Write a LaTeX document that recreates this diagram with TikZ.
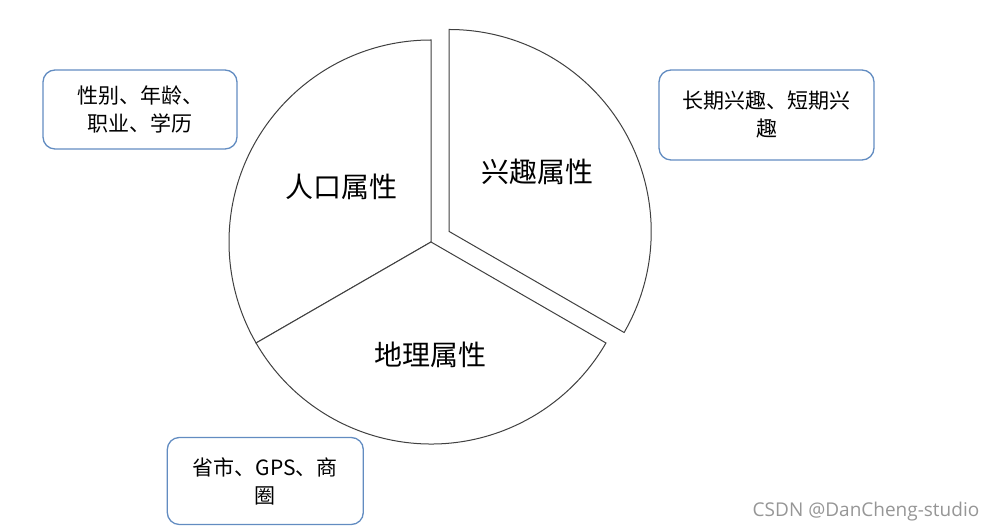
\documentclass[tikz,border=0pt]{standalone}
\usepackage{fontspec}
\setmainfont{Noto Sans CJK SC}
\newfontfamily\wmfont{Open Sans}
\definecolor{boxblue}{RGB}{98,140,193}
\definecolor{pieline}{RGB}{64,64,64}
\definecolor{wmgray}{RGB}{150,150,150}

\begin{document}
\begin{tikzpicture}[x=1pt,y=1pt,
  sector/.style={draw=pieline,line width=1pt,fill=white},
  piece/.style={font=\fontsize{28}{32}\selectfont},
  tagbox/.style={draw=boxblue,line width=1.3pt,rounded corners=12pt,
    align=center,inner sep=0pt,font=\fontsize{21}{28}\selectfont}]
  \useasboundingbox (0,0) rectangle (995,532);
  \coordinate (c) at (431,290);
  \draw[sector] (c) -- ++(90:202) arc (90:210:202) -- cycle;
  \draw[sector] (c) -- ++(210:202) arc (210:330:202) -- cycle;
  \draw[sector] ([shift={(30:21)}]c) -- ++(-30:202) arc (-30:90:202) -- cycle;
  \node[piece] (people) at (341,345) {人口属性};
  \node[piece] (hobby) at (537,360) {兴趣属性};
  \node[piece] (geo) at (430,177) {地理属性};
  \node[tagbox,minimum width=194pt,minimum height=79pt] (age) at (140,422.5)
    {性别、年龄、\\职业、学历};
  \node[tagbox,minimum width=215pt,minimum height=90pt] (term) at (766.5,417)
    {长期兴趣、短期兴\\趣};
  \node[tagbox,minimum width=196pt,minimum height=87pt] (city) at (265.3,51)
    {省市、GPS、商\\圈};
  \node[font=\wmfont\fontsize{19}{22}\selectfont,text=wmgray] (mark) at (866,20.5)
    {CSDN @DanCheng-studio};
\end{tikzpicture}
\end{document}
